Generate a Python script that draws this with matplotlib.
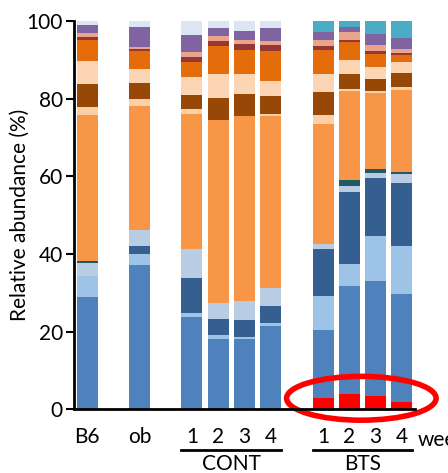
import numpy as np
import matplotlib
matplotlib.use("Agg")
import matplotlib.pyplot as plt
import matplotlib.patches as patches
from matplotlib.transforms import blended_transform_factory

plt.rcParams['font.family'] = ['Lato', 'DejaVu Sans']

samples = ['B6', 'ob', '1', '2', '3', '4', '1', '2', '3', '4']
positions = [0, 2, 4, 5, 6, 7, 9, 10, 11, 12]

# layer thicknesses (%), bottom to top, one value per sample
red = [0, 0, 0, 0, 0, 0, 3.0, 4.0, 3.4, 1.9]
mid_blue = [28.9, 37.1, 23.7, 18.2, 18.0, 21.5, 17.4, 27.7, 29.7, 27.7]
light_blue = [5.4, 2.8, 1.2, 1.0, 0.5, 0.6, 8.7, 5.8, 11.5, 12.4]
dark_blue = [0, 2.2, 8.9, 4.0, 4.6, 4.6, 12.3, 18.5, 14.9, 16.3]
grey_blue = [3.4, 4.2, 7.4, 4.2, 4.8, 4.6, 1.1, 1.6, 1.4, 2.2]
teal = [0.5, 0, 0, 0, 0, 0, 0, 1.4, 0.9, 0.7]
orange = [37.7, 31.9, 35.0, 47.1, 47.6, 44.2, 30.9, 23.0, 19.6, 21.0]
peach1 = [2.0, 1.7, 1.1, 0, 0, 0.7, 2.4, 0.6, 0.6, 0.9]
brown = [6.0, 4.2, 3.8, 5.7, 5.7, 4.5, 6.0, 3.9, 3.2, 3.5]
peach2 = [5.9, 3.5, 4.6, 6.3, 5.1, 3.9, 4.7, 3.6, 2.9, 3.0]
dark_orange = [5.5, 4.7, 3.8, 7.1, 6.2, 7.8, 6.2, 4.6, 3.5, 1.6]
dark_red = [0.7, 0.5, 1.3, 1.3, 1.6, 1.4, 0.9, 0.6, 0.7, 0.7]
pink = [1.0, 0.6, 1.3, 1.2, 1.0, 1.1, 1.7, 1.9, 1.5, 1.0]
purple = [2.0, 5.1, 4.4, 2.1, 2.5, 3.3, 1.9, 1.3, 3.0, 2.9]
cyan = [0, 0, 0, 0, 0, 0, 2.8, 1.5, 3.2, 4.2]
rest = [1.0, 1.5, 3.5, 1.8, 2.4, 1.8, 0, 0, 0, 0]

layers = [red, mid_blue, light_blue, dark_blue, grey_blue, teal, orange, peach1,
          brown, peach2, dark_orange, dark_red, pink, purple, cyan, rest]
colors = ['#ff0000', '#4f81bd', '#9dc3e6', '#365f91', '#b8cce4', '#215967',
          '#f79646', '#fbcfa8', '#974706', '#fcd5b4', '#e46c0a', '#953735',
          '#eaa48c', '#8064a2', '#4bacc6', '#dce6f2']

fig = plt.figure(figsize=(4.48, 4.73), dpi=100)
ax = fig.add_axes([0.165, 0.135, 0.761, 0.820])

bottom = np.zeros(len(samples))
for vals, c in zip(layers, colors):
    ax.bar(positions, vals, width=0.8, bottom=bottom, color=c, linewidth=0)
    bottom += np.array(vals)

ax.set_xlim(-0.5, 12.5)
ax.set_ylim(0, 100)
ax.set_yticks(np.arange(0, 101, 20))
ax.set_xticks(positions)
ax.set_xticklabels(samples)
ax.tick_params(axis='x', length=0, pad=13, labelsize=15)
ax.tick_params(axis='y', length=6, width=1.5, labelsize=15, pad=2)
ax.set_ylabel('Relative abundance (%)', fontsize=15)
ax.yaxis.set_label_coords(-0.13, 0.5)

for s in ['top', 'right']:
    ax.spines[s].set_visible(False)
ax.spines['left'].set_linewidth(2)
ax.spines['bottom'].set_linewidth(2)

trans = blended_transform_factory(ax.transData, ax.transAxes)
for x0, x1, name in [(3.6, 7.4, 'CONT'), (8.6, 12.4, 'BTS')]:
    ax.plot([x0, x1], [-0.106, -0.106], color='black', lw=2,
            transform=trans, clip_on=False)
    ax.text((x0 + x1) / 2, -0.142, name, transform=trans, ha='center',
            va='center', fontsize=15)
ax.text(12.6, -0.08, 'weeks', transform=trans, ha='left', va='center',
        fontsize=15)

ell = patches.Ellipse((10.46, 2.8), 5.7, 11.3, fill=False, edgecolor='#ff0000',
                      linewidth=4, clip_on=False)
ax.add_patch(ell)

fig.savefig('out.png', dpi=100)
